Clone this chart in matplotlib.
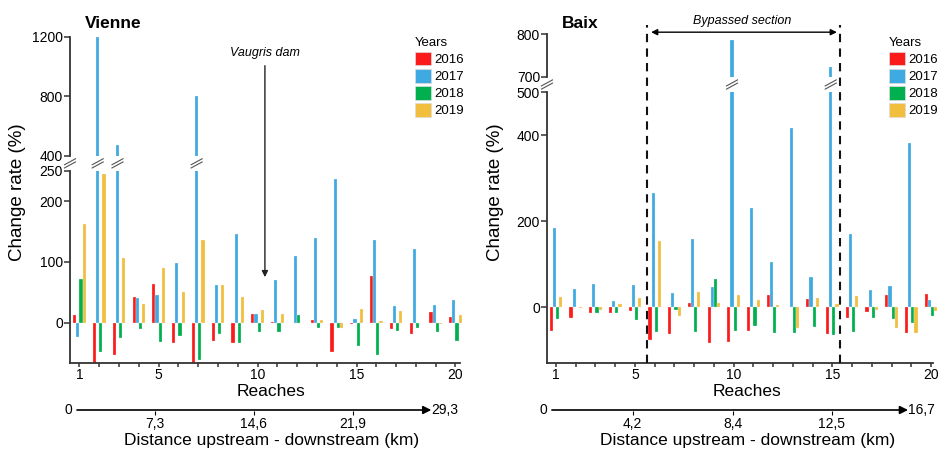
import numpy as np
import matplotlib
matplotlib.use("Agg")
import matplotlib.pyplot as plt
from matplotlib.patches import Patch
from matplotlib.lines import Line2D
import matplotlib.transforms as mtransforms

plt.rcParams["font.family"] = ["Liberation Sans", "DejaVu Sans"]

reaches = np.arange(1, 21)
years = ["2016", "2017", "2018", "2019"]
colors = ["#fc1b1b", "#3eaae1", "#00b04f", "#f2be3e"]

# Vienne change rate (%) per reach
vienne_2016 = [12, -68, -53, 43, 63, -34, -68, -30, -34, 14, 1, 0, 4, -49, -2, 77, -10, -18, 17, 9]
vienne_2017 = [-24, 1200, 470, 41, 45, 99, 800, 62, 146, 14, 71, 110, 139, 236, 6, 137, 27, 121, 29, 37]
vienne_2018 = [72, -48, -26, -11, -32, -22, -61, -19, -33, -16, -16, 13, -9, -9, -38, -53, -14, -9, -16, -30]
vienne_2019 = [162, 245, 107, 30, 90, 51, 137, 62, 42, 21, 14, 0, 4, -8, 22, 2, 19, 0, -2, 12]

# Baix change rate (%) per reach
baix_2016 = [-55, -24, -13, -12, -9, -75, -61, 11, -82, -81, -54, 28, 2, 19, -63, -24, -11, 28, -60, 31]
baix_2017 = [185, 42, 55, 15, 53, 267, 33, 159, 47, 786, 232, 106, 417, 70, 724, 171, 40, 50, 381, 17]
baix_2018 = [-27, 1, -14, -14, -30, -58, -6, -58, 65, -55, -44, -59, -60, -45, -64, -58, -24, -26, -37, -21]
baix_2019 = [25, -2, -5, 7, 21, 154, -20, 35, 10, 28, 17, 6, -48, 21, 8, 26, -5, -47, -59, -8]

W, H = 938, 449
fig = plt.figure(figsize=(W / 100, H / 100), dpi=100)


def fx(px):
    return px / W


def fy(py):
    return 1 - py / H


def panel(name, series, left_px, right_px, top_ax, bot_ax, top_lim, bot_lim,
          top_ticks, bot_ticks, xlim, spine_end, ylab_x, leg_x):
    # top_ax / bot_ax = (top_px, bottom_px) of the two halves of the broken axis
    ax_t = fig.add_axes([fx(left_px), fy(top_ax[1]), fx(right_px - left_px),
                         (top_ax[1] - top_ax[0]) / H])
    ax_b = fig.add_axes([fx(left_px), fy(bot_ax[1]), fx(right_px - left_px),
                         (bot_ax[1] - bot_ax[0]) / H])
    bw = 0.16
    offs = (np.arange(4) - 1.5) * bw
    for vals, off, c in zip(series, offs, colors):
        for ax in (ax_t, ax_b):
            ax.bar(reaches + off, vals, width=bw, color=c, edgecolor="#f4f4f4",
                   linewidth=0.2, zorder=2)
    for ax in (ax_t, ax_b):
        ax.set_xlim(*xlim)
        ax.spines[["top", "right"]].set_visible(False)
        ax.spines["left"].set_linewidth(1.3)
        ax.spines["left"].set_color("#333333")
        ax.tick_params(axis="y", labelsize=10, length=4, width=1.1,
                       color="#333333", pad=1)
    ax_t.set_ylim(*top_lim)
    ax_b.set_ylim(*bot_lim)
    ax_t.set_yticks(top_ticks)
    ax_b.set_yticks(bot_ticks)
    ax_t.spines["bottom"].set_visible(False)
    ax_t.set_xticks([])
    ax_b.spines["bottom"].set_bounds(xlim[0], spine_end)
    ax_b.spines["bottom"].set_linewidth(1.3)
    ax_b.spines["bottom"].set_color("#333333")
    ax_b.set_xticks(reaches)
    ax_b.set_xticklabels([str(r) if r in (1, 5, 10, 15, 20) else "" for r in reaches])
    ax_b.tick_params(axis="x", labelsize=10, length=3, width=1.1,
                     color="#333333", pad=0.5)

    # break marks on the axis and on bars that exceed the lower range
    gap_y = (top_ax[1] + bot_ax[0]) / 2
    tr = mtransforms.blended_transform_factory(ax_b.transData, fig.transFigure)
    pxr = (right_px - left_px) / (xlim[1] - xlim[0])
    dx = 5.5 / pxr
    dy = 3.0 / H
    marks = [xlim[0]] + [r + offs[1] for r, v in zip(reaches, series[1]) if v > bot_lim[1]]
    for xm in marks:
        for sh in (-1.6, 1.6):
            fig.add_artist(Line2D([xm - dx, xm + dx],
                                  [fy(gap_y) - dy + sh / H, fy(gap_y) + dy + sh / H],
                                  transform=tr, color="#555555", lw=0.8))

    fig.text(fx(left_px + 15), fy(23), name, fontsize=12.5, fontweight="bold",
             ha="left", va="center")
    fig.text(fx(ylab_x), fy(192), "Change rate (%)", rotation=90, fontsize=13.5,
             ha="center", va="center")
    fig.text(fx((left_px + right_px) / 2 + 5), fy(392), "Reaches", fontsize=12.5,
             ha="center", va="center")
    fig.text(fx((left_px + right_px) / 2 + 5), fy(441),
             "Distance upstream - downstream (km)", fontsize=12.5,
             ha="center", va="center")

    handles = [Patch(facecolor=c, edgecolor="#dddddd", linewidth=0.5) for c in colors]
    fig.legend(handles, years, title="Years", loc="upper left",
               bbox_to_anchor=(fx(leg_x), fy(37)), frameon=False,
               fontsize=9.5, title_fontsize=9.5, handlelength=1.2,
               handleheight=1.2, handletextpad=0.3, labelspacing=0.22,
               borderaxespad=0, borderpad=0, alignment="left")
    return ax_t, ax_b


def distance_axis(ax_left_px, ax_right_px, dmax, start, tip, ticks, ticklabels, endlabel):
    y = 410
    ax_d = fig.add_axes([fx(ax_left_px), fy(y), fx(ax_right_px - ax_left_px), 0.001])
    ax_d.set_xlim(0, dmax)
    ax_d.set_ylim(0, 1)
    ax_d.axis("off")
    ax_d.annotate("", xy=(tip, 0), xytext=(start, 0),
                  arrowprops=dict(arrowstyle="-|>", color="black", lw=1.2,
                                  mutation_scale=12, shrinkA=0, shrinkB=0),
                  annotation_clip=False)
    tick_tr = mtransforms.offset_copy(ax_d.transData, fig=fig, y=-2, units="points")
    lab_tr = mtransforms.offset_copy(ax_d.transData, fig=fig, y=-5, units="points")
    for t, lab in zip(ticks, ticklabels):
        ax_d.plot([t], [0], marker="|", markersize=3.5, color="black",
                  markeredgewidth=0.8, clip_on=False, transform=tick_tr)
        ax_d.text(t, 0, lab, fontsize=10, ha="center", va="top", transform=lab_tr)
    ax_d.text(start, 0, "0 ", fontsize=10, ha="right", va="center")
    ax_d.text(tip, 0, endlabel, fontsize=10, ha="left", va="center")


# Vienne panel
vt, vb = panel("Vienne", [vienne_2016, vienne_2017, vienne_2018, vienne_2019],
               70, 462.4, (36.7, 155.7), (171, 363.3), (400, 1200), (-67, 250),
               [400, 800, 1200], [0, 100, 200, 250], (0.52, 20.35), 20.23, 18, 415)

# Baix panel
bt, bb = panel("Baix", [baix_2016, baix_2017, baix_2018, baix_2019],
               547, 938, (34.3, 76.7), (92.3, 363.3), (700, 800), (-130, 500),
               [700, 800], [0, 200, 400, 500], (0.544, 20.355), 20.1, 495, 889)

# Vaugris dam arrow
vb.annotate("", xy=(10.37, 75), xycoords="data", xytext=(10.37, 1005),
            textcoords=vt.transData,
            arrowprops=dict(arrowstyle="-|>", color="#222222", lw=1.0,
                            mutation_scale=9, shrinkA=0, shrinkB=0))
vt.text(10.37, 1092, "Vaugris dam", fontsize=9, style="italic", ha="center",
        va="center", clip_on=False)

# Bypassed section
tr_b = mtransforms.blended_transform_factory(bb.transData, fig.transFigure)
for xd in (5.6, 15.4):
    fig.add_artist(Line2D([xd, xd], [fy(363.3), fy(25)], transform=tr_b,
                          color="#111111", lw=1.5, linestyle=(0, (4, 3))))
bt.annotate("", xy=(15.23, 805), xytext=(5.82, 805),
            arrowprops=dict(arrowstyle="<|-|>", color="black", lw=1.0,
                            mutation_scale=9, shrinkA=0, shrinkB=0),
            annotation_clip=False)
bt.text(10.42, 831, "Bypassed section", fontsize=9, style="italic", ha="center",
        va="center", clip_on=False)

# distance axes
distance_axis(56, 453, 29.3, 1.55, 27.7, [7.3, 14.6, 21.9], ["7,3", "14,6", "21,9"], "29,3")
distance_axis(532, 932.5, 16.7, 0.83, 15.68, [4.2, 8.4, 12.5], ["4,2", "8,4", "12,5"], "16,7")

fig.savefig("out.png", dpi=100)
